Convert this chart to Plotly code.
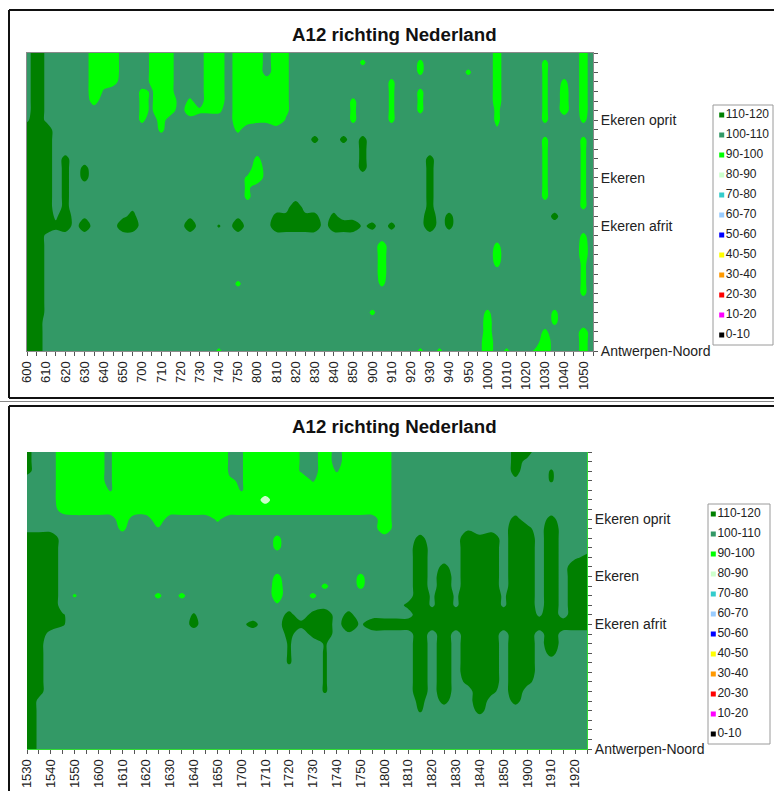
import plotly.graph_objects as go

# ---------------------------------------------------------------------------
# Speed classes (km/h) in legend order, with their fill colours
class_labels = ["110-120", "100-110", "90-100", "80-90", "70-80", "60-70",
                "50-60", "40-50", "30-40", "20-30", "10-20", "0-10"]
class_colors = ["#008000", "#339966", "#00FF00", "#CCFFCC", "#33CCCC", "#99CCFF",
                "#0000FF", "#FFFF00", "#FF9900", "#FF0000", "#FF00FF", "#000000"]

# Measuring points along the A12 (index 0 = Antwerpen-Noord, bottom of the chart)
n_points = 32
location_index = [0, 13, 18, 24]
location_names = ["Antwerpen-Noord", "Ekeren afrit", "Ekeren", "Ekeren oprit"]

# Time axis: one column every 5 minutes, labelled every 10 minutes
morning_labels = ["600", "610", "620", "630", "640", "650", "700", "710", "720", "730",
                  "740", "750", "800", "810", "820", "830", "840", "850", "900", "910",
                  "920", "930", "940", "950", "1000", "1010", "1020", "1030", "1040", "1050"]
evening_labels = ["1530", "1540", "1550", "1600", "1610", "1620", "1630", "1640", "1650",
                  "1700", "1710", "1720", "1730", "1740", "1750", "1800", "1810", "1820",
                  "1830", "1840", "1850", "1900", "1910", "1920"]

# Measured speed per cell, coded by one character (km/h)
speed_code = {"V": 88, "L": 93, "m": 96, "l": 98, "k": 99, "b": 101,
              ".": 105, "c": 108, "e": 111, "d": 113, "D": 118}

# Morning peak 6:00-10:55, rows from the top point (31) down to Antwerpen-Noord (0)
morning_rows = [
    ".Dc....LLL ...lLl...L L.LLL.Ll.. .......... .........m ........m.",
    ".Dc....LLL ...lLl...L L.LLL.Ll.. .....l.... .l.......m ....l...m.",
    ".Dc....LLL ...lLl...L L.LLL.Ll.. .......... .l....l..m ....l...m.",
    ".Dc....Lmm ...lLl...L L.LLLLLl.. ........l. .........m ....l.l.m.",
    ".Dc....Lb. ..lbLl...L L.LLLLLl.. ........l. .l.......m ....l.m.m.",
    ".Dc....m.. ..lbLL.l.L L.LLLLLl.. ....l...l. .l.......m ....l.m.m.",
    ".Dc....... ..lbLm.Lll l.LLLLLl.. ....l...l. .l.......l ....l.m.m.",
    "cDc....... ..l.m..... ..LmllLb.. ....l...l. .........l ....l...l.",
    "DDD....... ....l..... ..l....... .......... .........b ..........",
    "DDD....... .......... .......... d..d.d.... .......... ....l...l.",
    "DDD....... .......... .......... .....d.... .......... ....l...l.",
    "DDD.d..... .......... ....l..... .....d.... ..d....... ....l...l.",
    "DDD.d.d... .......... ....L..... .....d.... ..d....... ....l...l.",
    "DDD.d.d... .......... ...lL..... .......... ..d....... ....l...l.",
    "DDD.d..... .......... ...l...... .......... ..d....... ....l...l.",
    "DDD.d..... .......... ...l...... .......... ..d....... ....l...l.",
    "DDD.d..... .c........ ........D. .......... ..d....... ........l.",
    "DDDcD.c... cd.....c.. ..c...ddDd d.d....... ..D.d..... .....d....",
    "DDDdD.D... DD.....D.. e.D...DDDD D.DDDcd.d. ..D.d..... ..........",
    "DDc....... .......... .......... .......... .......... ........l.",
    "DDc....... .......... .......... .......m.. .........l ........m.",
    "DDc....... .......... .......... .......m.. .........m ........m.",
    "DDc....... .......... .......... .......m.. .........l ........l.",
    "DDc....... .......... .......... .......m.. .......... ........l.",
    "DDc....... .......... ..l....... .......l.. .......... ........l.",
    "DDc....... .......... .......... .......... .......... ........l.",
    "DDc....... .......... .......... .......... .......... ..........",
    "DDc....... .......... .......... ......l... ........l. .....l....",
    "DD........ .......... .......... .......... ........m. .....l....",
    "DD........ .......... .......... .......... ........m. ....l...m.",
    "DD........ .......... .......... .......... ........L. ....L...m.",
    "DD........ .......... l......... .......... .l.l....L. l..lL...m.",
]

# Evening peak 15:30-19:25
evening_rows = [
    "d..LLLkbLL LLLLLLLbbL LLLb.L.LLL L......... .dd.....",
    "d..LLLkbLL LLLLLLLbbL LLLb.L.LLL L......... .dc.....",
    "d..LLLkbLL LLLLLLLbbL LLLb.LbLLL L......... .d..e...",
    "...LLLkbLL LLLLLLLkbL LLLLbLLLLL L......... .c..e...",
    "...LLLLbLL LLLLLLLLbL LLLLLLLLLL L......... ........",
    "...LLLLLLL LLLLLLLLLL VLLLLLLLLL L......... ........",
    "...mLLLLLL LLLLLLLLLL LLLLLLLLLL L......... ........",
    "........L. .L....l... .......... L......... .d..d...",
    "........l. .b........ .......... L......c.. .Dd.D...",
    "DDD....... .......... .l........ ...d...DdD .DD.D...",
    "DDD....... .......... .l........ ...D...DDD .DD.D...",
    "DDD....... .......... .......... ...D...DDD .DD.D.cd",
    "DDD....... .......... .......... ...D.d.DDD .DD.D.DD",
    "DDD....... .......... .l......l. ...D.D.DDD .DD.D.DD",
    "DDD....... .......... .m...l..l. ...D.D.DDD .DD.D.DD",
    "DDD.k..... .l.l...... .m..l..... ...DcDcDDD cDD.D.DD",
    "DDD....... .......... .b........ ..dDcDcDDD cDD.D.DD",
    "DDDe...... ....e..... ..d.dD.d.. ...DDDDDDD DDDcD.DD",
    "DDDe...... ....d...cd ..DdDD.DcD DDDDDDDDDD DDDDDDDD",
    "DD........ .......... ..d.dD.c.. ...D.D.DDD .DD.D...",
    "Dd........ .......... ..e..e.... ...D.D.DDD .DD.D...",
    "Dd........ .......... ..e..e.... ...D.D.DDD .DD.d...",
    "Dd........ .......... ..e..e.... ...D.D.DDD .DD.....",
    "Dd........ .......... .....e.... ...D.D.DDD .DD.....",
    "Dd........ .......... .....e.... ...D.D.dDD .Dd.....",
    "Dd........ .......... .....e.... ...D.D..Dd .D......",
    "Dc........ .......... .......... ...d.d..D. .d......",
    "Dc........ .......... .......... ...e....d. ........",
    "Dc........ .......... .......... .......... ........",
    "Dc........ .......... .......... .......... ........",
    "Dc........ .......... .......... .......... ........",
    "Dc........ .......... .......... .......... ........",
]


def decode(rows):
    """Turn the coded rows (top first) into a z grid indexed [point][time]."""
    grid = []
    for row in reversed(rows):
        grid.append([speed_code[ch] for ch in row.replace(" ", "")])
    return grid


morning_z = decode(morning_rows)
evening_z = decode(evening_rows)

# Stepped colour scale: one flat colour per 10 km/h band
Z_LO, Z_HI = -5, 125
span = Z_HI - Z_LO
bands_low_first = list(reversed(class_colors))
colorscale = [[0.0, bands_low_first[0]]]
for k, col in enumerate(bands_low_first):
    colorscale.append([(10 * k - Z_LO) / span, col])
    colorscale.append([(10 * k + 10 - Z_LO) / span, col])
colorscale.append([1.0, bands_low_first[-1]])

W, H = 774, 791
FONT = "Liberation Sans, Arial, sans-serif"


def px(x):
    return x / W


def py(y):
    return 1 - y / H


def time_ticks(labels):
    n = 2 * len(labels)
    text = [labels[i // 2] if i % 2 == 0 else "" for i in range(n)]
    return list(range(n)), text


def location_ticks():
    text = [""] * n_points
    for idx, name in zip(location_index, location_names):
        text[idx] = name
    return list(range(n_points)), text


fig = go.Figure()

panels = [
    # z grid, labels, x axis, y axis, plot box (px), legend box (px), marker x, line colour
    (morning_z, morning_labels, "x", "y", (27, 593, 53, 351), (713, 773, 105, 345), 721.7, "#8a8a8a"),
    (evening_z, evening_labels, "x2", "y2", (27, 587, 452, 749), (708, 770, 504, 744), 713.3, "#33dd33"),
]

for p, (z, labels, xa, ya, box, lbox, mx, lcol) in enumerate(panels):
    ncols = len(z[0])
    fig.add_trace(go.Contour(
        z=z, x=list(range(ncols)), y=list(range(n_points)),
        autocontour=False,
        contours=dict(start=0, end=120, size=10, coloring="fill", showlines=False),
        colorscale=colorscale, zmin=Z_LO, zmax=Z_HI, showscale=False,
        line=dict(width=0), hoverinfo="skip", xaxis=xa, yaxis=ya,
    ))

    tv, tt = time_ticks(labels)
    lv, lt = location_ticks()
    sfx = "" if p == 0 else "2"
    x0, x1, y0, y1 = box
    fig.update_layout(**{
        "xaxis" + sfx: dict(
            domain=[px(x0), px(x1)], anchor="y" + sfx, range=[0, ncols - 1],
            tickmode="array", tickvals=tv, ticktext=tt, tickangle=-90,
            ticks="outside", ticklen=4, tickwidth=1, tickcolor="#555",
            tickfont=dict(family=FONT, size=13, color="#222"),
            showgrid=False, zeroline=False, showline=True, linecolor=lcol,
            linewidth=1, mirror=(p == 0), automargin=False,
        ),
        "yaxis" + sfx: dict(
            domain=[py(y1), py(y0)], anchor="x" + sfx, range=[0, n_points - 1],
            side="right", tickmode="array", tickvals=lv, ticktext=lt,
            ticks="outside", ticklen=4, tickwidth=1, tickcolor="#555",
            tickfont=dict(family=FONT, size=14, color="#222"),
            showgrid=False, zeroline=False, showline=True, linecolor=lcol,
            linewidth=1, mirror=(p == 0), automargin=False,
        ),
    })

    # Legend drawn on its own small axes
    lx0, lx1, ly0, ly1 = lbox
    lsfx = str(3 + p)
    fig.add_trace(go.Scatter(
        x=[0] * len(class_labels), y=list(range(len(class_labels))),
        mode="markers+text", text=class_labels, textposition="middle right",
        textfont=dict(family=FONT, size=12, color="#222"),
        marker=dict(symbol="square", size=5, color=class_colors, line=dict(width=0)),
        cliponaxis=False, showlegend=False, hoverinfo="skip",
        xaxis="x" + lsfx, yaxis="y" + lsfx,
    ))
    fig.update_layout(**{
        "xaxis" + lsfx: dict(domain=[px(mx), px(lx1)], anchor="y" + lsfx,
                             range=[0, 1], visible=False, automargin=False),
        "yaxis" + lsfx: dict(domain=[py(ly1), py(ly0)], anchor="x" + lsfx,
                             range=[len(class_labels) - 0.5, -0.5], visible=False,
                             automargin=False),
    })
    fig.add_shape(type="rect", xref="paper", yref="paper",
                  x0=px(lx0), x1=px(lx1), y0=py(ly1), y1=py(ly0),
                  line=dict(color="#9a9a9a", width=1), fillcolor="rgba(0,0,0,0)",
                  layer="above")

# Chart titles
for ty in (35, 427):
    fig.add_annotation(text="<b>A12 richting Nederland</b>", xref="paper", yref="paper",
                       x=px(394), y=py(ty), xanchor="center", yanchor="middle",
                       showarrow=False, font=dict(family=FONT, size=18.7, color="#111"))

# Chart frames
frame = dict(type="line", xref="paper", yref="paper", layer="above")
for seg in [
    (9, 10, W + 2, 10), (9, 10, 9, 398), (9, 398, W + 2, 398),
    (9, 406, W + 2, 406), (9, 406, 9, H + 2),
]:
    fig.add_shape(**frame, x0=px(seg[0]), y0=py(seg[1]), x1=px(seg[2]), y1=py(seg[3]),
                  line=dict(color="#111", width=2))
fig.add_shape(**frame, x0=px(0), y0=py(401.5), x1=px(W), y1=py(401.5),
              line=dict(color="#888", width=1))

fig.update_layout(
    template="none",
    width=W, height=H, margin=dict(l=0, r=0, t=0, b=0, pad=0, autoexpand=False),
    paper_bgcolor="white", plot_bgcolor="white", showlegend=False,
    font=dict(family=FONT),
)

fig.write_html("out.html")
